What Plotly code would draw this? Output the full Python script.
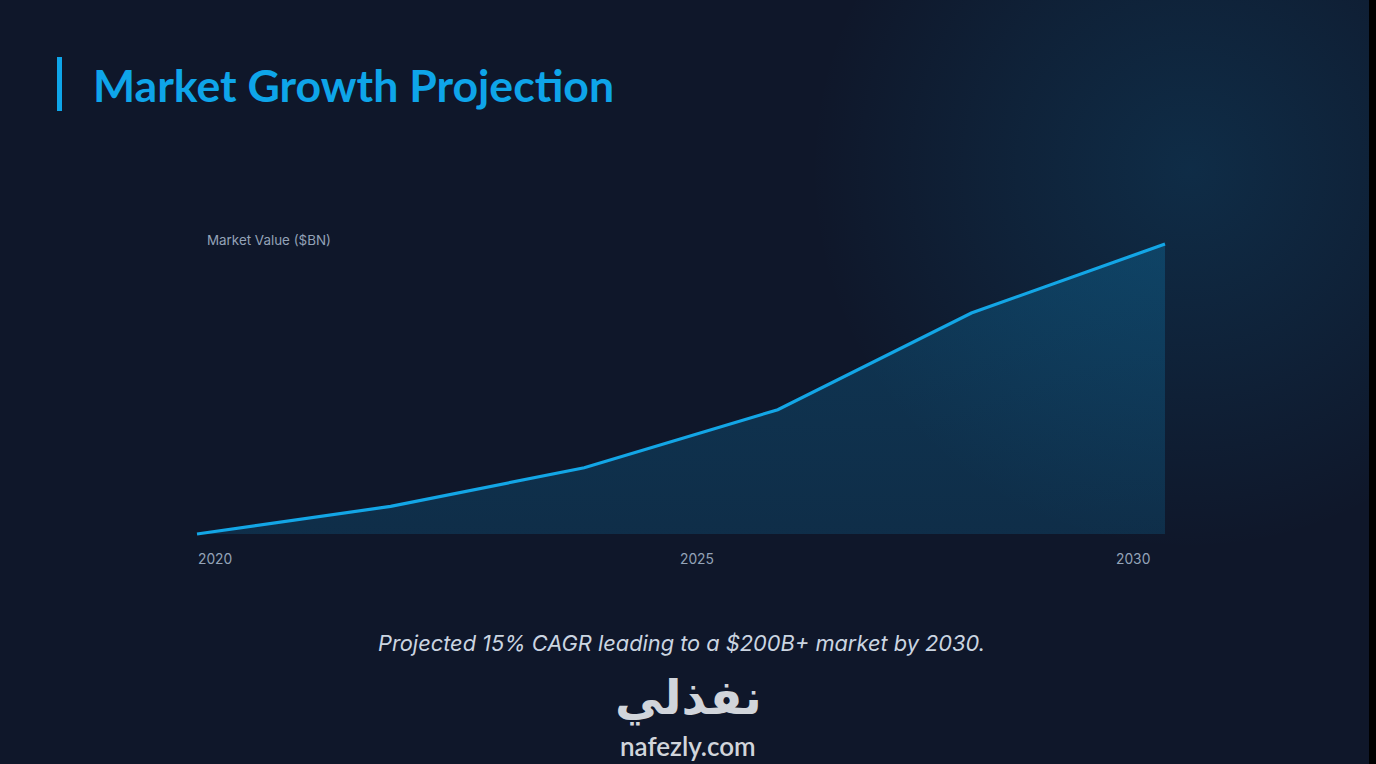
import base64

import plotly.graph_objects as go

# Data
years = [2020, 2022, 2024, 2026, 2028, 2030]
market_value = [0, 20, 48, 90, 160, 210]  # $BN

tick_labels = ['2020', '2025', '2030']
title_text = 'Market Growth Projection'
axis_label = 'Market Value ($BN)'
caption = 'Projected 15% CAGR leading to a $200B+ market by 2030.'
logo_ar = 'نفذلي'
logo_en = 'nafezly.com'

# Figure size / colours
width = 1376
height = 764
bg_color = '#0f172a'
accent = '#0ea5e9'
muted = '#94a3b8'


def px_x(p):
    return p / width


def px_y(p):
    return 1 - p / height


# soft glow in the upper right, done as an inline svg
glow_svg = f'''<svg xmlns="http://www.w3.org/2000/svg" width="{width}" height="{height}">
<defs><radialGradient id="g" cx="1190" cy="170" r="380" gradientUnits="userSpaceOnUse">
<stop offset="0" stop-color="#0ea5e9" stop-opacity="0.15"/>
<stop offset="0.55" stop-color="#0ea5e9" stop-opacity="0.07"/>
<stop offset="1" stop-color="#0ea5e9" stop-opacity="0"/>
</radialGradient></defs>
<rect width="{width}" height="{height}" fill="url(#g)"/>
</svg>'''
glow_uri = 'data:image/svg+xml;base64,' + base64.b64encode(glow_svg.encode()).decode()

fig = go.Figure()

fig.add_trace(go.Scatter(
    x=years, y=market_value,
    mode='lines',
    line=dict(color='#13a6e6', width=3.2),
    fill='tozeroy',
    fillgradient=dict(type='vertical',
                      colorscale=[[0, 'rgba(14,165,233,0.16)'],
                                  [1, 'rgba(14,165,233,0.22)']]),
    hoverinfo='skip',
    showlegend=False,
))

# axes: 2020 -> 197px, 2030 -> 1165px ; 0 -> 534px, 210 -> 244px
x_pad = 0.2
x_scale = (1165 - 197) / 10
y_pad = 5
y_scale = (534 - 244) / 210

fig.update_xaxes(range=[2020 - x_pad, 2030 + x_pad],
                 domain=[px_x(197 - x_pad * x_scale), px_x(1165 + x_pad * x_scale)],
                 visible=False, fixedrange=True)
fig.update_yaxes(range=[-y_pad, 210 + y_pad],
                 domain=[px_y(534 + y_pad * y_scale), px_y(244 - y_pad * y_scale)],
                 visible=False, fixedrange=True)

# title bar
fig.add_shape(type='rect', xref='paper', yref='paper',
              x0=px_x(57), x1=px_x(62), y0=px_y(111), y1=px_y(57),
              fillcolor=accent, line_width=0)
# dark strip at right edge of screenshot
fig.add_shape(type='rect', xref='paper', yref='paper',
              x0=px_x(1369), x1=1, y0=0, y1=1,
              fillcolor='#000000', line_width=0)

annotations = [
    dict(text=title_text, x=px_x(91), y=px_y(84), xanchor='left', yanchor='middle',
         font=dict(family='Lato', size=44.6, color=accent, weight='bold')),
    dict(text=axis_label, x=px_x(205), y=px_y(240), xanchor='left', yanchor='middle',
         font=dict(family='Inter', size=13.4, color=muted)),
    dict(text=tick_labels[0], x=px_x(196), y=px_y(559), xanchor='left', yanchor='middle',
         font=dict(family='Inter', size=13.8, color=muted)),
    dict(text=tick_labels[1], x=px_x(697), y=px_y(559), xanchor='center', yanchor='middle',
         font=dict(family='Inter', size=13.8, color=muted)),
    dict(text=tick_labels[2], x=px_x(1152), y=px_y(559), xanchor='right', yanchor='middle',
         font=dict(family='Inter', size=13.8, color=muted)),
    dict(text='<i>' + caption + '</i>', x=px_x(681), y=px_y(643), xanchor='center', yanchor='middle',
         font=dict(family='Inter', size=21.8, color='#cbd5e1')),
    dict(text=logo_ar, x=px_x(688), y=px_y(697), xanchor='center', yanchor='middle',
         font=dict(family='DejaVu Sans', size=48, color='#d1d5db', weight='bold')),
    dict(text=logo_en, x=px_x(688), y=px_y(746), xanchor='center', yanchor='middle',
         font=dict(family='Lato', size=26, color='#d1d5db', weight=600)),
]
for a in annotations:
    a.update(xref='paper', yref='paper', showarrow=False)

fig.update_layout(
    width=width, height=height,
    margin=dict(l=0, r=0, t=0, b=0),
    paper_bgcolor=bg_color,
    plot_bgcolor='rgba(0,0,0,0)',
    annotations=annotations,
    images=[dict(source=glow_uri, xref='paper', yref='paper', x=0, y=1,
                 sizex=1, sizey=1, sizing='stretch', xanchor='left', yanchor='top',
                 layer='below')],
)

# drop the default page margin so the figure fills the window
fig.write_html('out.html', config={'displayModeBar': False},
               post_script="document.body.style.margin='0';document.body.style.overflow='hidden';")
